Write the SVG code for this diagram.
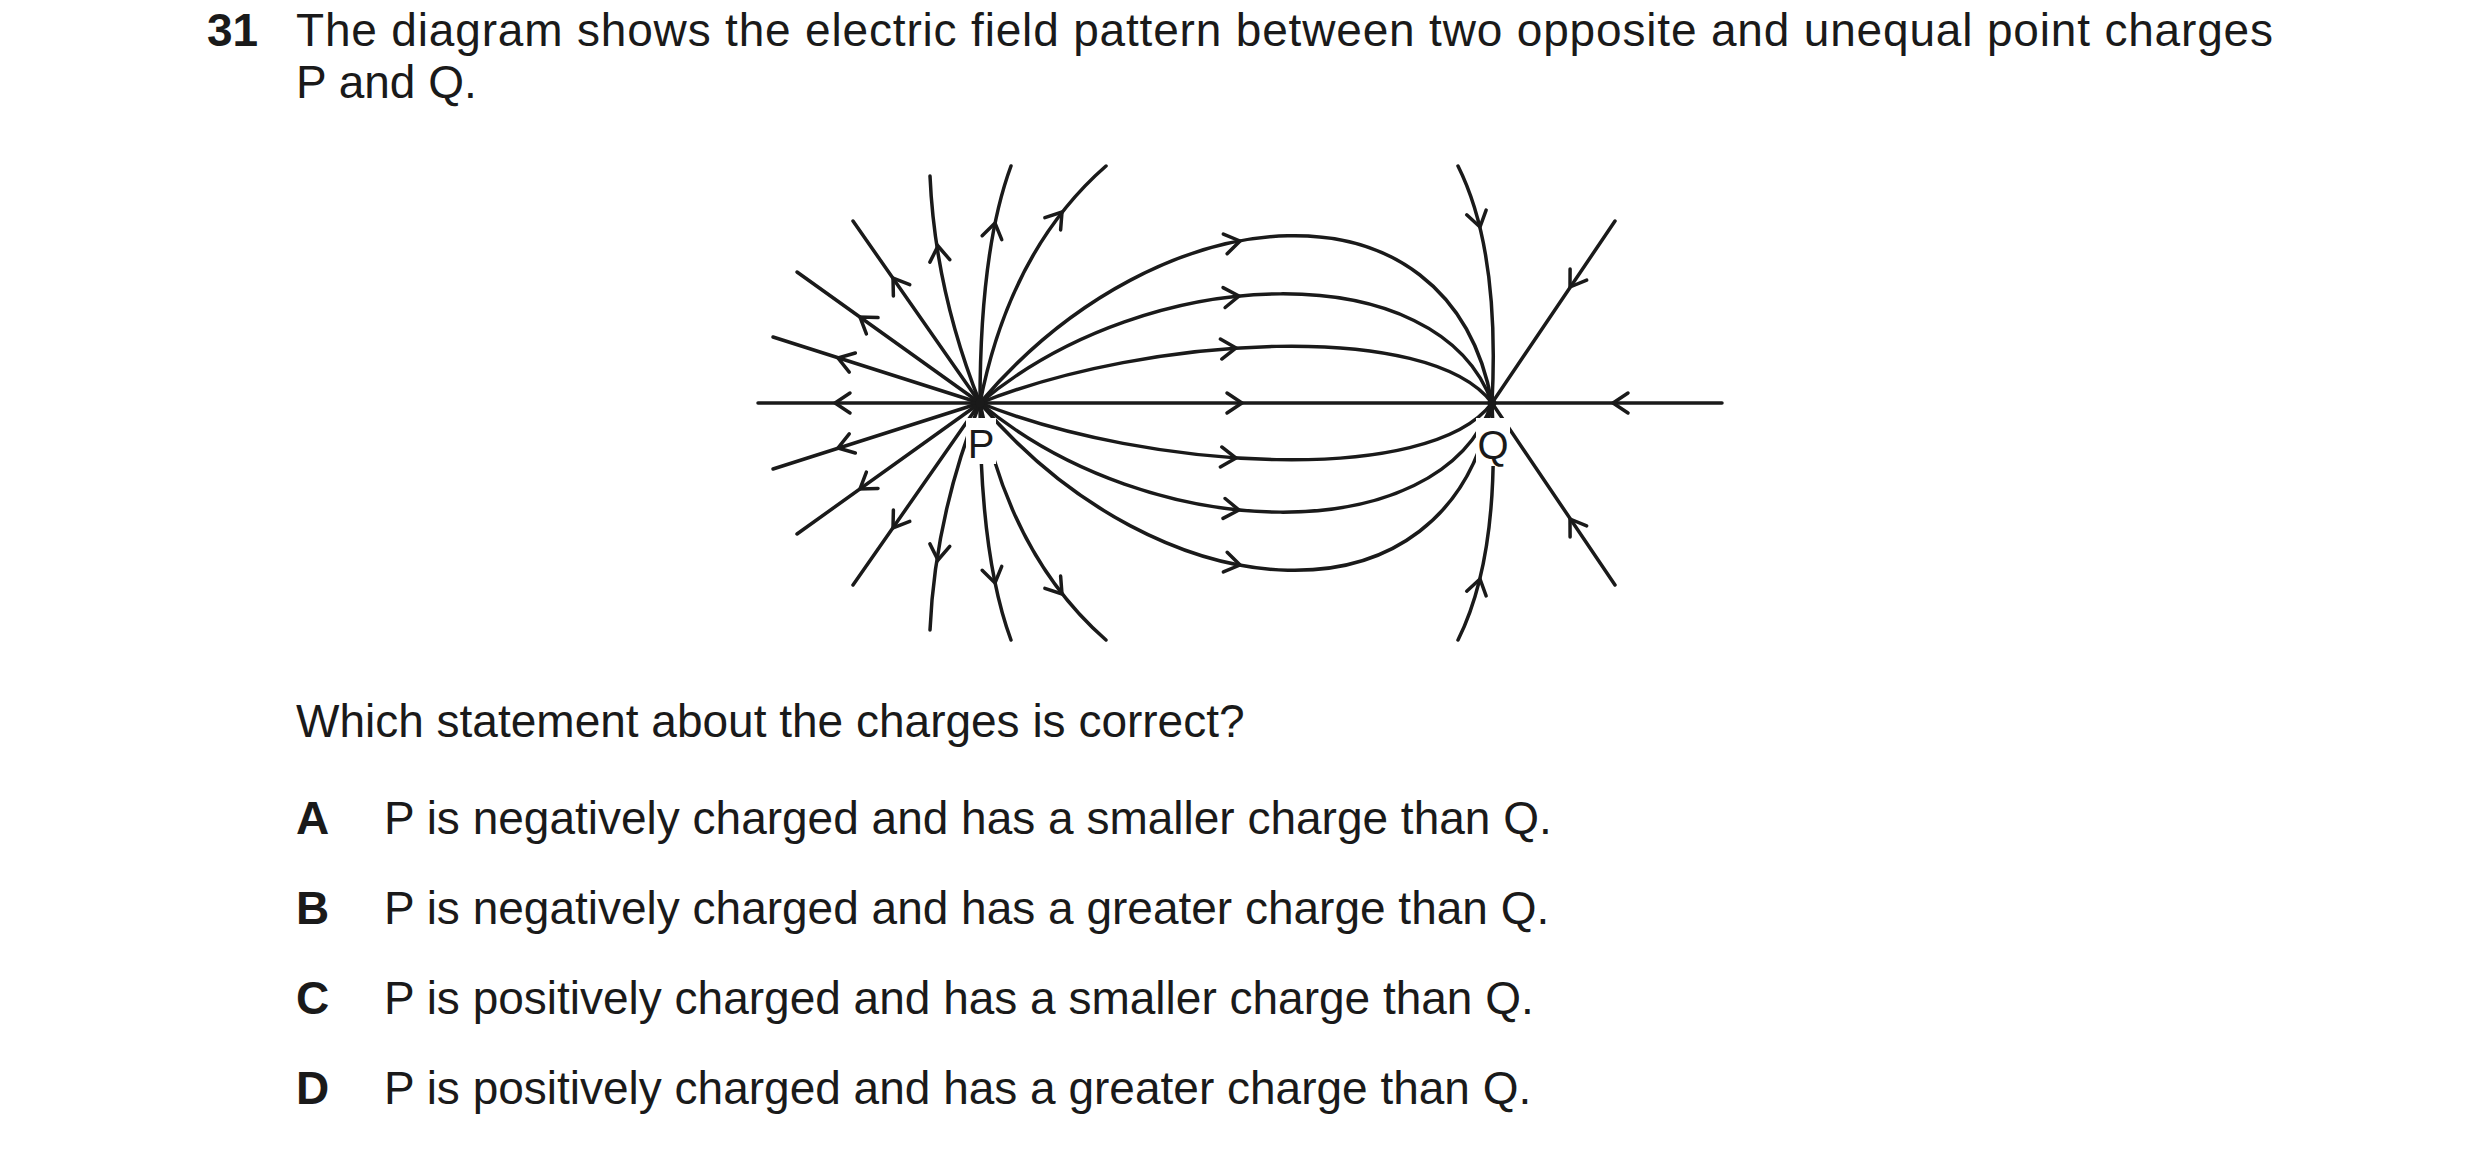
<svg xmlns="http://www.w3.org/2000/svg" xmlns:xlink="http://www.w3.org/1999/xlink" width="2480" height="1155" viewBox="0 0 2480 1155">
<style>
.t{font-family:"Liberation Sans",Arial,sans-serif;font-size:46px;fill:#1a1a1a}
.b{font-weight:bold}
.l{fill:none;stroke:#1a1a1a;stroke-width:3.5;stroke-linecap:round}
.lab{font-family:"Liberation Sans",Arial,sans-serif;font-size:40px;fill:#1a1a1a;text-anchor:middle}
</style>
<defs>
<path id="ah" d="M-15,-10 L0,0 L-15,10" class="l"/>
<g id="upper">
<path class="l" d="M980,403 L773,337"/>
<path class="l" d="M980,403 L797,272"/>
<path class="l" d="M980,403 L853,221"/>
<path class="l" d="M980,403 Q935,290 930,176"/>
<path class="l" d="M980,403 Q980,250 1011,166"/>
<path class="l" d="M980,403 Q1010,250 1106,166"/>
<path class="l" d="M980,403 C1160,190 1450,170 1492,403"/>
<path class="l" d="M980,403 C1150,260 1440,255 1492,403"/>
<path class="l" d="M980,403 C1150,335 1430,320 1492,403"/>
<path class="l" d="M1492,403 Q1500,250 1458,166"/>
<path class="l" d="M1492,403 L1615,221"/>
<use xlink:href="#ah" transform="translate(838,358) rotate(-162.3)"/>
<use xlink:href="#ah" transform="translate(860,317) rotate(-144.4)"/>
<use xlink:href="#ah" transform="translate(893,278) rotate(-124.9)"/>
<use xlink:href="#ah" transform="translate(938,246) rotate(-97)"/>
<use xlink:href="#ah" transform="translate(995,223) rotate(-78.3)"/>
<use xlink:href="#ah" transform="translate(1062,212) rotate(-51.9)"/>
<use xlink:href="#ah" transform="translate(1240,241) rotate(-10.9)"/>
<use xlink:href="#ah" transform="translate(1239,296) rotate(-6)"/>
<use xlink:href="#ah" transform="translate(1236,348) rotate(-4)"/>
<use xlink:href="#ah" transform="translate(1480,227) rotate(76.2)"/>
<use xlink:href="#ah" transform="translate(1570,287) rotate(124)"/>
</g>
</defs>
<g id="question">
<text class="t b" x="207" y="46">31</text>
<text class="t" x="296" y="46" textLength="1977" lengthAdjust="spacing">The diagram shows the electric field pattern between two opposite and unequal point charges</text>
<text class="t" x="296" y="98">P and Q.</text>
<text class="t" x="296" y="737">Which statement about the charges is correct?</text>
</g>
<g id="connectors">
<use xlink:href="#upper"/>
<use xlink:href="#upper" transform="matrix(1 0 0 -1 0 806)"/>
<path class="l" d="M758,403 L1722,403"/>
<use xlink:href="#ah" transform="translate(835,403) rotate(180)"/>
<use xlink:href="#ah" transform="translate(1242,403)"/>
<use xlink:href="#ah" transform="translate(1613,403) rotate(180)"/>
</g>
<g id="P">
<rect x="966" y="418" width="30" height="46" fill="#fff"/>
<circle cx="980" cy="403" r="4.5" fill="#1a1a1a"/>
<text class="lab" x="981" y="458">P</text>
</g>
<g id="Q">
<rect x="1476" y="418" width="34" height="48" fill="#fff"/>
<circle cx="1492" cy="403" r="4.5" fill="#1a1a1a"/>
<text class="lab" x="1493" y="459">Q</text>
</g>
<g id="options">
<text class="t b" x="296" y="834">A</text>
<text class="t" x="384" y="834">P is negatively charged and has a smaller charge than Q.</text>
<text class="t b" x="296" y="924">B</text>
<text class="t" x="384" y="924">P is negatively charged and has a greater charge than Q.</text>
<text class="t b" x="296" y="1014">C</text>
<text class="t" x="384" y="1014">P is positively charged and has a smaller charge than Q.</text>
<text class="t b" x="296" y="1104">D</text>
<text class="t" x="384" y="1104">P is positively charged and has a greater charge than Q.</text>
</g>
</svg>
